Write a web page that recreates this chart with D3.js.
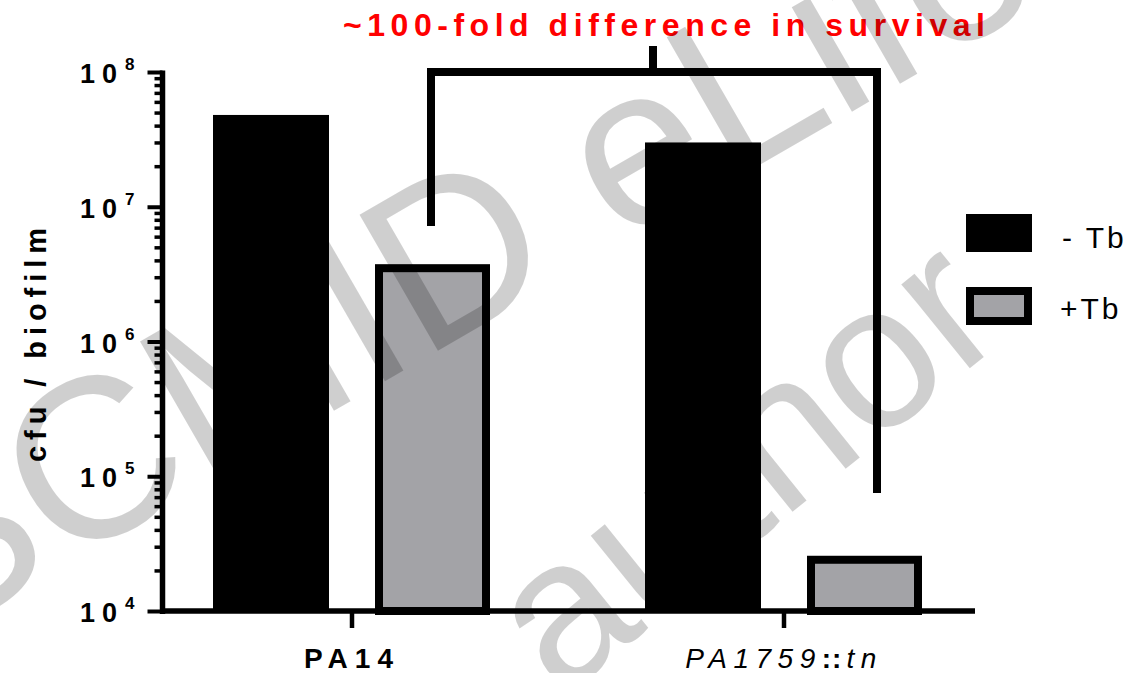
<!doctype html>
<html>
<head>
<meta charset="utf-8">
<title>cfu / biofilm</title>
<script src="https://cdn.jsdelivr.net/npm/d3@7"></script>
<style>
  html, body { margin: 0; padding: 0; background: #fff; }
  svg { display: block; }
  .lbl { font-family: "Liberation Sans", Arial, sans-serif; fill: #000; }
</style>
</head>
<body>
<div id="chart"></div>
<script>
  // data
  const groups = ['PA14', 'PA1759::tn'];
  const series = ['- Tb', '+Tb'];
  const noTb = [4.8e7, 3.0e7];
  const withTb = [3.5e6, 2.4e4];
  const yTicks = [1e4, 1e5, 1e6, 1e7, 1e8];
  const bracketEnds = [7.2e6, 7.5e4];   // where the two legs stop
  const bracketTop = 1e8;
  const title = '~100-fold difference in survival';

  const W = 1134, H = 673;
  const grey = '#a3a3a7';

  const svg = d3.select('#chart').append('svg')
    .attr('width', W)
    .attr('height', H);

  const y = d3.scaleLog()
    .domain([1e4, 1e8])
    .range([611, 72]);

  const x0 = d3.scaleBand()
    .domain(groups)
    .range([136, 1000]);

  const x1 = d3.scaleBand()
    .domain(series)
    .range([54, 378])
    .paddingInner(46 / 162)
    .paddingOuter(23 / 162);

  const values = [noTb, withTb];

  // bars
  const g = svg.append('g');
  groups.forEach((grp, gi) => {
    series.forEach((s, si) => {
      const v = values[si][gi];
      const bx = x0(grp) + x1(s);
      const bw = x1.bandwidth();
      if (si === 0) {
        g.append('rect')
          .attr('x', bx).attr('y', y(v))
          .attr('width', bw).attr('height', y(1e4) - y(v))
          .attr('fill', '#000');
      } else {
        // outlined bar, stroke kept inside the outer edge
        g.append('rect')
          .attr('x', bx + 4).attr('y', y(v))
          .attr('width', bw - 9).attr('height', y(1e4) - y(v))
          .attr('fill', grey)
          .attr('stroke', '#000')
          .attr('stroke-width', 8);
      }
    });
  });

  // y axis, major + minor ticks
  const minor = [];
  for (let e = 4; e < 8; e++) {
    for (let m = 2; m <= 9; m++) minor.push(m * Math.pow(10, e));
  }

  const yAxisMinor = svg.append('g')
    .attr('transform', 'translate(162.5,0)')
    .call(d3.axisLeft(y).tickValues(minor).tickFormat('').tickSize(8).tickSizeOuter(0));
  yAxisMinor.select('.domain').remove();
  yAxisMinor.selectAll('.tick line').attr('stroke', '#000').attr('stroke-width', 3.5);

  const yAxis = svg.append('g')
    .attr('transform', 'translate(162.5,0)')
    .call(d3.axisLeft(y).tickValues(yTicks).tickFormat('').tickSize(15).tickSizeOuter(0));
  yAxis.select('.domain').attr('stroke', '#000').attr('stroke-width', 5.5)
    .attr('d', `M0,${y(1e4) + 3}V${y(1e8) - 1.5}`);
  yAxis.selectAll('.tick line').attr('stroke', '#000').attr('stroke-width', 4);

  // tick labels 10^n
  const tl = svg.append('g').selectAll('text')
    .data(yTicks)
    .join('text')
    .attr('class', 'lbl')
    .attr('x', 80)
    .attr('y', d => y(d) + 11)
    .attr('font-weight', 'bold');
  tl.append('tspan')
    .attr('font-size', 27)
    .attr('letter-spacing', 7)
    .text('10');
  tl.append('tspan')
    .attr('font-size', 17)
    .attr('dx', 1)
    .attr('dy', -13)
    .text(d => Math.round(Math.log10(d)));

  // x axis
  const xAxis = svg.append('g')
    .attr('transform', `translate(0,${y(1e4)})`)
    .call(d3.axisBottom(x0).tickSize(17).tickSizeOuter(0).tickFormat(''));
  xAxis.select('.domain').attr('stroke', '#000').attr('stroke-width', 5.5)
    .attr('d', 'M160,0H975');
  xAxis.selectAll('.tick line').attr('stroke', '#000').attr('stroke-width', 4.5);

  // x labels
  svg.append('text')
    .attr('class', 'lbl')
    .attr('x', x0(groups[0]) + x0.bandwidth() / 2)
    .attr('y', 668)
    .attr('text-anchor', 'middle')
    .attr('font-size', 28)
    .attr('font-weight', 'bold')
    .attr('letter-spacing', 7)
    .text(groups[0]);

  const lab2 = svg.append('text')
    .attr('class', 'lbl')
    .attr('x', x0(groups[1]) + x0.bandwidth() / 2)
    .attr('y', 668)
    .attr('text-anchor', 'middle')
    .attr('font-size', 28)
    .attr('letter-spacing', 6.5);
  const parts = groups[1].split('::');
  lab2.append('tspan').attr('font-style', 'italic').text(parts[0]);
  lab2.append('tspan').attr('font-weight', 'bold').attr('letter-spacing', 1).text('::');
  lab2.append('tspan').attr('font-style', 'italic').attr('dx', 4).text(parts[1]);

  // y label
  svg.append('text')
    .attr('class', 'lbl')
    .attr('transform', 'translate(46,345) rotate(-90)')
    .attr('text-anchor', 'middle')
    .attr('font-size', 29)
    .attr('font-weight', 'bold')
    .attr('textLength', 234)
    .attr('lengthAdjust', 'spacing')
    .text('cfu / biofilm');

  // bracket
  const bx = i => x0(groups[i]) + x1(series[1]) + x1.bandwidth() / 2;
  const lx = bx(0) - 2, rx = bx(1) + 12;
  svg.append('path')
    .attr('d', `M${lx},${y(bracketEnds[0])}V${y(bracketTop)}H${rx}V${y(bracketEnds[1])}`)
    .attr('fill', 'none')
    .attr('stroke', '#000')
    .attr('stroke-width', 8)
    .attr('stroke-linejoin', 'miter');
  svg.append('line')
    .attr('x1', (lx + rx) / 2 - 1).attr('x2', (lx + rx) / 2 - 1)
    .attr('y1', y(bracketTop)).attr('y2', 46)
    .attr('stroke', '#000')
    .attr('stroke-width', 8);

  // title
  svg.append('text')
    .attr('x', 343)
    .attr('y', 36)
    .attr('font-family', '"Liberation Sans Narrow", "Arial Narrow", "Liberation Sans", sans-serif')
    .attr('font-size', 32)
    .attr('font-weight', 'bold')
    .attr('fill', '#ff0000')
    .attr('textLength', 642)
    .attr('lengthAdjust', 'spacing')
    .text(title);

  // legend
  const leg = svg.append('g').attr('transform', 'translate(966,214)');
  leg.append('rect')
    .attr('width', 66).attr('height', 38)
    .attr('fill', '#000');
  leg.append('rect')
    .attr('x', 4).attr('y', 77)
    .attr('width', 58).attr('height', 30)
    .attr('fill', grey)
    .attr('stroke', '#000')
    .attr('stroke-width', 8);
  leg.selectAll('text.lg')
    .data(series)
    .join('text')
    .attr('class', 'lbl lg')
    .attr('x', (d, i) => i === 0 ? 96 : 94)
    .attr('y', (d, i) => 34 + i * 71)
    .attr('font-size', 30)
    .attr('letter-spacing', 3)
    .text(d => d);

  // watermark on top
  const wm = svg.append('g')
    .attr('font-family', '"Liberation Sans", Arial, sans-serif')
    .attr('fill', '#000')
    .attr('fill-opacity', 0.19);
  wm.append('text')
    .attr('transform', 'translate(-72,645) rotate(-30)')
    .attr('font-size', 228)
    .text('SCMID eLife');
  wm.append('text')
    .attr('transform', 'translate(560,700) rotate(-39)')
    .attr('font-size', 205)
    .text('author');
</script>
</body>
</html>
